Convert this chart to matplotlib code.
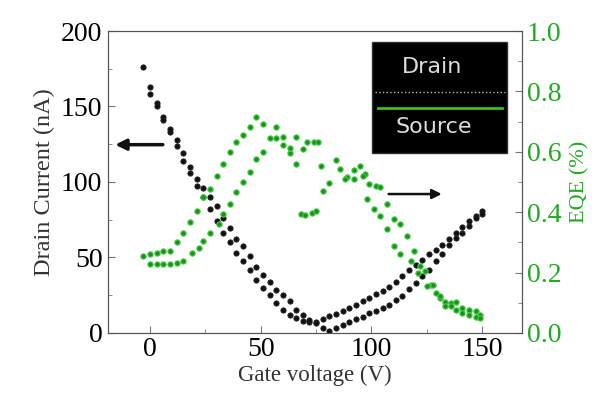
import numpy as np
import matplotlib
matplotlib.use('Agg')
import matplotlib.pyplot as plt
from matplotlib.ticker import MultipleLocator

# drain current, two sweep branches (V, nA)
d1_v = [-3, 0, 3, 6, 9, 12, 15, 18, 21, 24, 27, 30, 33, 36, 39, 42, 45, 48, 51, 54, 57, 60,
        63, 66, 69, 72, 75, 78, 81, 84, 87, 90, 93, 96, 99, 102, 105, 108, 111, 114, 117,
        120, 123, 126, 129, 132, 135, 138, 141, 144, 147, 150]
d1_i = [176, 163, 152, 143, 133, 124, 114, 106, 97, 90, 82, 74, 66.5, 60, 53, 47.5, 42, 35,
        30, 25, 20, 15.3, 12, 9.8, 8, 7, 7, 9, 11, 12.5, 14.5, 16.4, 18.5, 21, 23, 25.5, 28,
        30.5, 34, 37.5, 41.5, 45, 48.5, 52, 55, 58.5, 62, 66, 70, 74, 77.5, 81]
d2_v = [0, 3, 6, 9, 12, 15, 18, 21, 24, 27, 30, 33, 36, 39, 42, 45, 48, 51, 54, 57, 60,
        63, 66, 69, 72, 75, 78, 81, 84, 87, 90, 93, 96, 99, 102, 105, 108, 111, 114, 117,
        120, 123, 126, 129, 132, 135, 138, 141, 144, 147, 150]
d2_i = [158, 150, 141, 135, 128, 119, 110, 102, 96, 90, 84, 76, 69.8, 62, 57.5, 51, 44,
        38.7, 34, 28.7, 25.3, 21, 15.3, 12, 8.7, 6.4, 3, 1, 3.5, 5.5, 7.5, 9, 10.8, 13, 14.5,
        16.5, 18.7, 21.5, 24.5, 29, 33, 37.5, 42, 47.5, 52.5, 58, 63, 66.5, 71, 76, 79]

# EQE, two branches (V, %)
g1_v = [-3, 0, 3, 6, 9, 12, 15, 18, 21, 24, 27, 30, 33, 36, 39, 42, 45, 48, 51, 57, 60,
        63, 66, 68, 70, 73, 75, 77, 84, 86, 89, 92, 95, 97, 99, 102, 104, 107, 110, 113,
        116, 119, 122, 124, 127, 129, 131, 133, 136, 138, 141, 144, 147, 149]
g1_e = [0.254, 0.26, 0.266, 0.271, 0.271, 0.30, 0.332, 0.366, 0.404, 0.449, 0.477, 0.521,
        0.56, 0.599, 0.632, 0.654, 0.682, 0.716, 0.693, 0.682, 0.621, 0.597, 0.56, 0.393,
        0.39, 0.397, 0.404, 0.554, 0.574, 0.543, 0.515, 0.541, 0.554, 0.527, 0.493, 0.488,
        0.482, 0.427, 0.377, 0.36, 0.321, 0.271, 0.221, 0.204, 0.16, 0.132, 0.116, 0.104,
        0.099, 0.104, 0.082, 0.077, 0.071, 0.06]
g2_v = [0, 3, 6, 9, 12, 15, 19, 22, 24, 27, 31, 33, 36, 39, 42, 45, 48, 51, 54, 57, 60,
        63, 66, 69, 71, 74, 76, 78, 81, 88, 92, 96, 98, 101, 104, 107, 110, 113, 118, 121,
        125, 128, 131, 133, 136, 138, 141, 144, 147, 149]
g2_e = [0.227, 0.227, 0.227, 0.227, 0.232, 0.238, 0.266, 0.282, 0.304, 0.332, 0.36, 0.393,
        0.427, 0.466, 0.5, 0.532, 0.577, 0.599, 0.646, 0.646, 0.649, 0.612, 0.649, 0.608,
        0.634, 0.634, 0.634, 0.471, 0.497, 0.51, 0.51, 0.519, 0.443, 0.41, 0.386, 0.343,
        0.288, 0.26, 0.238, 0.199, 0.154, 0.16, 0.121, 0.09, 0.088, 0.077, 0.066, 0.06,
        0.054, 0.049]

green = '#22aa22'
serif = ['Liberation Serif', 'DejaVu Serif']

fig = plt.figure(figsize=(6.12, 4.08), dpi=100)
ax = fig.add_axes([0.1765, 0.184, 0.6765, 0.740])
ax2 = ax.twinx()

ax.plot(d1_v, d1_i, 'o', color='#111111', ms=3.8, mec='#222222', mew=0.6, zorder=3)
ax.plot(d2_v, d2_i, 'o', color='#111111', ms=3.8, mec='#222222', mew=0.6, zorder=3)
ax2.plot(g1_v, g1_e, 'o', color='#1e8f1e', ms=3.8, mec='#44cc44', mew=0.8)
ax2.plot(g2_v, g2_e, 'o', color='#1e8f1e', ms=3.8, mec='#44cc44', mew=0.8)

ax.set_xlim(-19, 168)
ax.set_ylim(0, 200)
ax2.set_ylim(0, 1.0)
ax.xaxis.set_major_locator(MultipleLocator(50))
ax.xaxis.set_minor_locator(MultipleLocator(25))
ax.yaxis.set_major_locator(MultipleLocator(50))
ax.yaxis.set_minor_locator(MultipleLocator(25))
ax2.yaxis.set_major_locator(MultipleLocator(0.2))
ax2.yaxis.set_minor_locator(MultipleLocator(0.1))
ax2.set_yticklabels(['%.1f' % t for t in np.arange(0, 1.01, 0.2)])
ax2.set_yticks(np.arange(0, 1.01, 0.2))

for a in (ax, ax2):
    a.tick_params(which='both', direction='in', color='#777777')
    a.tick_params(which='major', length=5)
    a.tick_params(which='minor', length=3)
    for s in a.spines.values():
        s.set_color('#555555')
for lab in ax.get_xticklabels() + ax.get_yticklabels():
    lab.set_family(serif)
    lab.set_fontsize(20)
for lab in ax2.get_yticklabels():
    lab.set_family(serif)
    lab.set_fontsize(20)
    lab.set_color(green)
ax.tick_params(axis='x', pad=3)
ax.tick_params(axis='y', pad=4)

ax.set_xlabel('Gate voltage (V)', family=serif, fontsize=16.5, color='#333333', labelpad=2)
ax.set_ylabel('Drain Current (nA)', family=serif, fontsize=17.5, color='#333333', labelpad=4)
ax2.set_ylabel('EQE (%)', family=serif, fontsize=16, color=green, labelpad=6)

# direction arrows
ax.annotate('', xy=(-17, 124.7), xytext=(7, 124.7),
            arrowprops=dict(arrowstyle='-|>', lw=2.5, color='#111111', mutation_scale=16))
ax.annotate('', xy=(133, 92), xytext=(106.5, 92),
            arrowprops=dict(arrowstyle='-|>', lw=1.8, color='#111111', mutation_scale=14))

# legend box
tr = ax.transAxes
ax.add_patch(plt.Rectangle((0.638, 0.596), 0.326, 0.368, transform=tr,
                           facecolor='black', edgecolor='#333333', zorder=5))
ax.text(0.782, 0.882, 'Drain', transform=tr, color='#dddddd', fontsize=16,
        ha='center', va='center', zorder=6)
ax.plot([0.645, 0.96], [0.799, 0.799], transform=tr, color='#bbbbbb', lw=1, ls=':', zorder=6)
ax.plot([0.652, 0.952], [0.744, 0.744], transform=tr, color='#44bb22', lw=2, zorder=6)
ax.text(0.786, 0.683, 'Source', transform=tr, color='#dddddd', fontsize=16,
        ha='center', va='center', zorder=6)

fig.savefig('out.png', dpi=100)
